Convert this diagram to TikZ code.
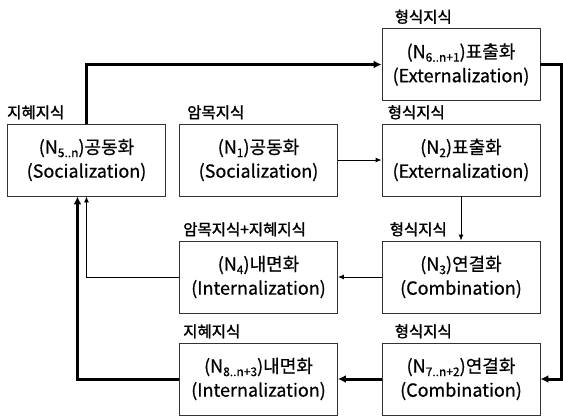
\documentclass[tikz,border=0pt]{standalone}
\usepackage{fontspec}
\setmainfont{Noto Sans CJK KR}
\newfontfamily\tagfont[FakeBold=1.6]{Noto Sans CJK KR}
\newfontfamily\stagefont[FakeBold=0.6]{Noto Sans CJK KR}
\usetikzlibrary{arrows.meta, positioning}
\newcommand{\nsub}[1]{\raisebox{-0.35ex}{\fontsize{12}{12}\selectfont #1}}
\tikzset{
  stage/.style={draw=black!80, line width=0.9pt, minimum width=158pt, minimum height=72pt,
    inner sep=0pt, align=center, font=\stagefont\fontsize{18}{24}\selectfont},
  tag/.style={inner sep=0pt, anchor=south west, font=\tagfont\fontsize{15.5}{16}\selectfont},
  thinflow/.style={line width=0.9pt, -{Latex[length=6pt, width=5pt]}},
  thickflow/.style={line width=3pt, -{Latex[length=8pt, width=8pt]}}
}

\begin{document}
\begin{tikzpicture}[x=1pt, y=-1pt]
\useasboundingbox (0,0) rectangle (563,416);
%% boxes
  \node[stage] (soc5) at (86.5,160) {(N\nsub{5..n})공동화\\(Socialization)};
  \node[stage] (soc1) at (258.5,160) {(N\nsub{1})공동화\\(Socialization)};
  \node[stage] (ext2) at (461,160) {(N\nsub{2})표출화\\(Externalization)};
  \node[stage] (ext6) at (461,64.5) {(N\nsub{6..n+1})표출화\\(Externalization)};
  \node[stage] (com3) at (461,277) {(N\nsub{3})연결화\\(Combination)};
  \node[stage] (int4) at (258.5,277) {(N\nsub{4})내면화\\(Internalization)};
  \node[stage] (com7) at (461,379) {(N\nsub{7..n+2})연결화\\(Combination)};
  \node[stage] (int8) at (258.5,379) {(N\nsub{8..n+3})내면화\\(Internalization)};
%% labels
  \node[tag] (t5) at ([shift={(0,-4)}]soc5.north west) {지혜지식};
  \node[tag] (t1) at ([shift={(8,-4)}]soc1.north west) {암목지식};
  \node[tag] (t2) at ([shift={(6,-4)}]ext2.north west) {형식지식};
  \node[tag] (t6) at ([shift={(13,-4)}]ext6.north west) {형식지식};
  \node[tag] (t3) at ([shift={(8,-4)}]com3.north west) {형식지식};
  \node[tag] (t4) at ([shift={(4,-4)}]int4.north west) {암목지식+지혜지식};
  \node[tag] (t7) at ([shift={(13,-4)}]com7.north west) {형식지식};
  \node[tag] (t8) at ([shift={(4,-4)}]int8.north west) {지혜지식};
%% bend points
  \coordinate (rt) at (561,64.5);
  \coordinate (lb) at ([xshift=-9]soc5.south);
%% thin cycle
  \draw[thinflow] (soc1) -- (ext2);
  \draw[thinflow] (ext2) -- (com3);
  \draw[thinflow] (com3) -- (int4);
  \draw[thinflow] (int4.west) -| (soc5.south);
%% thick cycle
  \draw[thickflow] (soc5.north) |- (ext6.west);
  \draw[thickflow] (ext6.east) -- (rt) |- (com7.east);
  \draw[thickflow] (com7) -- (int8);
  \draw[thickflow] (int8.west) -| (lb);
\end{tikzpicture}
\end{document}
